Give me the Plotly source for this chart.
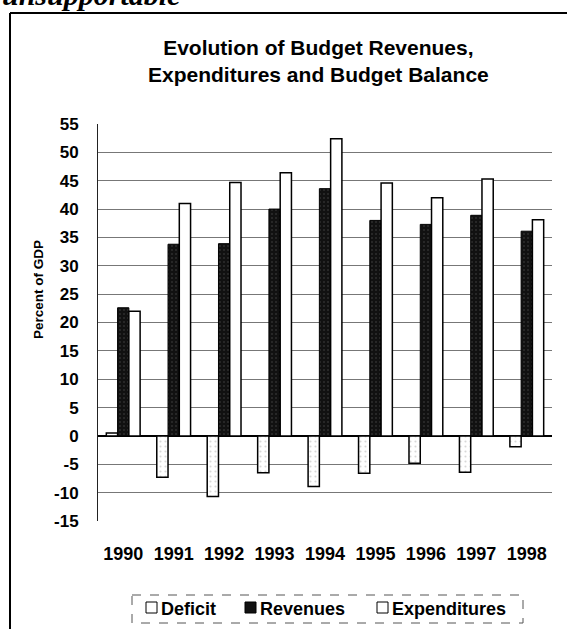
import plotly.graph_objects as go

# Budget data, percent of GDP
years = ["1990", "1991", "1992", "1993", "1994", "1995", "1996", "1997", "1998"]
deficit = [0.5, -7.3, -10.7, -6.5, -8.9, -6.6, -4.8, -6.4, -1.9]
revenues = [22.6, 33.8, 33.9, 40.0, 43.6, 38.0, 37.3, 38.9, 36.1]
expenditures = [22.0, 41.0, 44.7, 46.4, 52.4, 44.6, 42.0, 45.3, 38.1]
y_ticks = list(range(-15, 60, 5))
series_names = ["Deficit", "Revenues", "Expenditures"]

FONT = "Liberation Sans, Arial, sans-serif"
W, H = 567, 629
ML, MR, MT, MB = 98, 15, 124, 108
PW, PH = W - ML - MR, H - MT - MB


def px(x):
    return (x - ML) / PW


def py(y):
    return (H - MB - y) / PH


styles = {
    "Deficit": dict(color="white", line=dict(color="black", width=1.5),
                    pattern=dict(shape=".", fgcolor="#b0b0b0", bgcolor="white", size=5, solidity=0.15)),
    "Revenues": dict(color="#111111", line=dict(color="black", width=1),
                     pattern=dict(shape=".", fgcolor="#4a4a4a", bgcolor="#111111", size=4, solidity=0.2)),
    "Expenditures": dict(color="white", line=dict(color="black", width=1.5)),
}

fig = go.Figure()
for name, vals in zip(series_names, [deficit, revenues, expenditures]):
    fig.add_bar(name=name, x=years, y=vals, marker=styles[name])

fig.update_layout(
    width=W, height=H,
    margin=dict(l=ML, r=MR, t=MT, b=MB),
    paper_bgcolor="white", plot_bgcolor="white",
    barmode="group", bargap=0.33, bargroupgap=0,
    font=dict(family=FONT, color="black"),
    showlegend=False,
    xaxis=dict(
        type="category", showgrid=False, showline=False, ticks="",
        tickfont=dict(size=18, family=FONT, weight="bold"),
        ticklabelstandoff=20,
    ),
    yaxis=dict(
        range=[-15, 55], tickvals=y_ticks, ticktext=[str(v) for v in y_ticks],
        showgrid=True, gridcolor="#777777", gridwidth=1,
        zeroline=True, zerolinecolor="black", zerolinewidth=1.5,
        showline=True, linecolor="#222", linewidth=1,
        ticks="", tickfont=dict(size=17, family=FONT, weight="bold"),
        ticklabelstandoff=15,
    ),
)

# Chart heading
fig.add_annotation(
    text="Evolution of Budget Revenues,<br>Expenditures and Budget Balance",
    xref="paper", yref="paper", x=px(318), y=py(61), xanchor="center", yanchor="middle",
    showarrow=False, font=dict(size=21, family=FONT, weight="bold"), align="center",
)

# Vertical axis title
fig.add_annotation(
    text="Percent of GDP", textangle=-90,
    xref="paper", yref="paper", x=px(38), y=py(290), xanchor="center", yanchor="middle",
    showarrow=False, font=dict(size=13.5, family=FONT, weight="bold"),
)

# Key below the chart: frame, swatches and labels
fig.add_shape(type="rect", xref="paper", yref="paper",
              x0=px(132), x1=px(523), y0=py(595), y1=py(623),
              line=dict(color="#555", width=1, dash="dash"), fillcolor="white")
key_x = [146, 245, 377]
for name, x0 in zip(series_names, key_x):
    st = styles[name]
    fig.add_shape(type="rect", xref="paper", yref="paper",
                  x0=px(x0), x1=px(x0 + 11), y0=py(602), y1=py(613),
                  line=dict(color="black", width=1), fillcolor=st["color"])
    fig.add_annotation(text=name, xref="paper", yref="paper",
                       x=px(x0 + 13), y=py(609), xanchor="left", yanchor="middle",
                       showarrow=False, font=dict(size=18, family=FONT, weight="bold"))

# Running text of the page above the box
fig.add_annotation(
    text="<i><b>unsupportable</b></i>",
    xref="paper", yref="paper", x=px(0), y=py(13), xanchor="left", yanchor="bottom",
    showarrow=False, font=dict(size=30, family="Liberation Serif, Times New Roman, serif"),
)

# Box frame (top and left edges)
fig.add_shape(type="line", xref="paper", yref="paper",
              x0=px(10), x1=px(W), y0=py(13), y1=py(13), line=dict(color="black", width=2))
fig.add_shape(type="line", xref="paper", yref="paper",
              x0=px(10), x1=px(10), y0=py(13), y1=py(H), line=dict(color="black", width=2))

fig.write_html("out.html")
